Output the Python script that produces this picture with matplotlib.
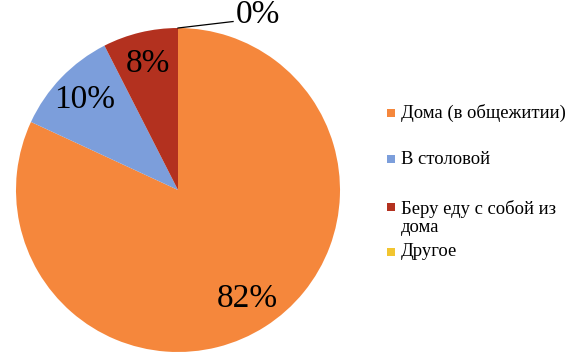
import matplotlib
matplotlib.use("Agg")
import matplotlib.pyplot as plt
from matplotlib.patches import Rectangle
import numpy as np

categories = ["Дома (в общежитии)", "В столовой", "Беру еду с собой из дома", "Другое"]
legend_lines = ["Дома (в общежитии)", "В столовой", "Беру еду с собой из\nдома", "Другое"]
values = [81.9, 10.6, 7.5, 0.0]
value_labels = ["82%", "10%", "8%", "0%"]
colors = ["#F5873C", "#7C9EDB", "#B3311F", "#F2C530"]

plt.rcParams['font.family'] = ['Liberation Serif', 'DejaVu Serif']

W, H = 575, 361
fig = plt.figure(figsize=(W / 100, H / 100), dpi=100)
cx, cy, r = 178, 190, 162
ax = fig.add_axes([(cx - r) / W, (H - cy - r) / H, 2 * r / W, 2 * r / H])
wedges, texts = ax.pie(values, colors=colors, startangle=90, counterclock=False,
                       radius=1.0, labels=None)
ax.set_xlim(-1, 1)
ax.set_ylim(-1, 1)
ax.set_aspect('equal')
ax.axis('off')

for w, lab, v in zip(wedges, value_labels, values):
    ang = np.deg2rad((w.theta1 + w.theta2) / 2)
    if v > 0:
        d = 0.8
        ax.text(d * np.cos(ang), d * np.sin(ang), lab, ha='center', va='center',
                fontsize=24, color='black')
    else:
        x0, y0 = np.cos(ang), np.sin(ang)
        ax.plot([x0, x0 + 0.34], [y0, y0 + 0.04], color='black', lw=0.9, clip_on=False)
        ax.text(x0 + 0.355, y0 + 0.03, lab, ha='left', va='baseline', fontsize=24,
                color='black', clip_on=False)

# legend
ys = [113, 159, 206.5, 252]
for col, lab, y in zip(colors, legend_lines, ys):
    fig.patches.append(Rectangle((387 / W, (H - y - 4) / H), 8 / W, 8 / H,
                                 transform=fig.transFigure, facecolor=col,
                                 edgecolor='none'))
    if '\n' in lab:
        fig.text(401 / W, (H - y + 7) / H, lab, ha='left', va='top',
                 fontsize=13.4, color='black', linespacing=1.15)
    else:
        fig.text(401 / W, (H - y) / H, lab, ha='left', va='center',
                 fontsize=13.4, color='black')

fig.savefig("out.png", dpi=100)
